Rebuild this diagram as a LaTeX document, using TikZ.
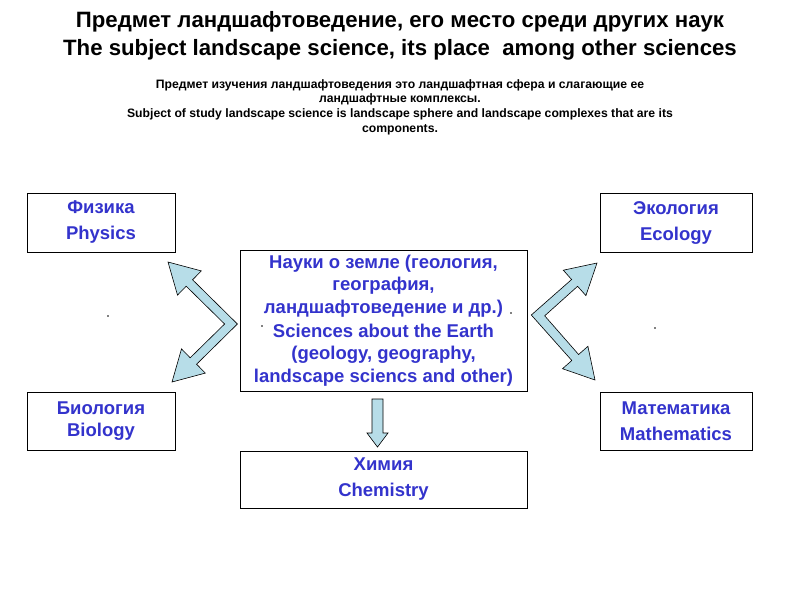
\documentclass[tikz,border=0pt]{standalone}
\usepackage{fontspec}
\setmainfont{Liberation Sans}
\usetikzlibrary{calc,positioning}
\definecolor{txtblue}{RGB}{51,51,204}
\definecolor{arrowfill}{RGB}{183,221,232}
\tikzset{
  sbox/.style={draw, line width=0.8pt, inner sep=0pt, align=center, text=txtblue,
    font=\fontsize{18.5}{26}\selectfont\bfseries},
  barrow/.style={draw, line width=0.6pt, fill=arrowfill, line join=miter},
  ttl/.style={font=\fontsize{22.2}{28}\selectfont\bfseries, align=center},
  sub/.style={font=\fontsize{12.2}{14.7}\selectfont\bfseries, align=center},
  sdot/.style={circle, fill=black, inner sep=0pt, minimum size=1.6pt}
}

\begin{document}
\begin{tikzpicture}[x=1pt,y=-1pt]
  \useasboundingbox (0,0) rectangle (800,600);
  % headings
  \node[ttl] (title) at (400,36) {Предмет ландшафтоведение, его место среди других наук\\
    The subject landscape science, its place\ \ among other sciences};
  \node[sub] (subj) at (400,107) {Предмет изучения ландшафтоведения это ландшафтная сфера и слагающие ее\\
    ландшафтные комплексы.\\
    Subject of study landscape science is landscape sphere and landscape complexes that are its\\
    components.};
  % boxes
  \node[sbox, minimum width=148, minimum height=59] (phys) at (101,222.5) {Физика\\Physics};
  \node[sbox, minimum width=152, minimum height=59] (eco) at (676,222.5) {Экология\\Ecology};
  \node[sbox, minimum width=287, minimum height=141, font=\fontsize{18.5}{22.5}\selectfont\bfseries]
    (earth) at (383.5,320.5) {Науки о земле (геология,\\география,\\ландшафтоведение и др.)\\[1.5pt]
    Sciences about the Earth\\(geology, geography,\\landscape sciencs and other)};
  \node[sbox, minimum width=148, minimum height=58, font=\fontsize{18.5}{22}\selectfont\bfseries]
    (bio) at (101,421) {Биология\\Biology};
  \node[sbox, minimum width=152, minimum height=58] (math) at (676,421) {Математика\\Mathematics};
  \node[sbox, minimum width=287, minimum height=57] (chem) at (383.5,479.5) {Химия\\Chemistry};
  % block arrows
  \draw[barrow] (237.4,324) -- (192.6,279.8) -- (201.3,270.9) -- (168,262) -- (177.5,295.1)
    -- (186.2,286.2) -- (224.6,324) -- (190.2,357.8) -- (181.5,348.9) -- (172,382)
    -- (205.3,373.1) -- (196.6,364.2) -- cycle;
  \draw[barrow] (531.3,315) -- (571.6,279.5) -- (563.3,270.2) -- (597,263) -- (585.9,295.6)
    -- (577.6,286.3) -- (544.7,315.8) -- (578.6,354.5) -- (587.9,346.3) -- (595,380)
    -- (562.5,368.7) -- (571.8,360.5) -- cycle;
  \draw[barrow] (372,399) -- (383,399) -- (383,433) -- (388,433) -- (377.5,447)
    -- (367,433) -- (372,433) -- cycle;
  % stray dots
  \node[sdot] (d1) at (108,316) {};
  \node[sdot] (d2) at (655,328) {};
  \node[sdot] (d3) at (511,313) {};
  \node[sdot] (d4) at (262,326) {};
\end{tikzpicture}
\end{document}
